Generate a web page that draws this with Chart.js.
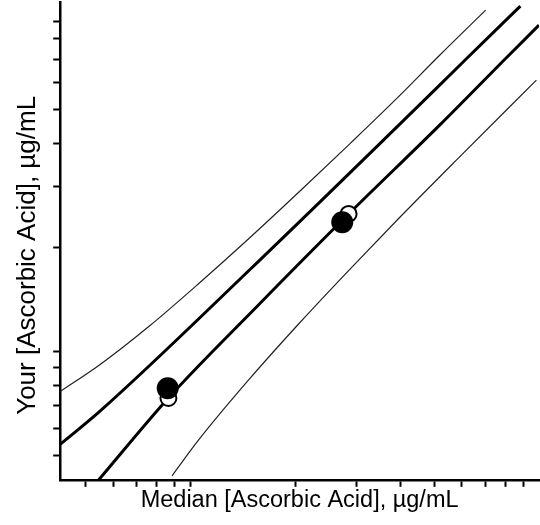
<!DOCTYPE html>
<html>
<head>
<meta charset="utf-8">
<script src="https://cdn.jsdelivr.net/npm/chart.js@4.4.0/dist/chart.umd.min.js"></script>
<style>
    html, body { margin: 0; padding: 0; background: #fff; }
    #wrap { width: 540px; height: 525px; }
</style>
</head>
<body>
<div id="wrap"><canvas id="chart" width="540" height="525"></canvas></div>
<script>
// Tick positions (log axes, no labels)
const xTicks = [0.5, 0.6, 0.7, 0.8, 0.9, 1, 2, 3, 4, 5, 6, 7, 8, 9];
const yTicks = [0.5, 0.6, 0.7, 0.8, 0.9, 1, 2, 3, 4, 5, 6, 7, 8, 9];

// Thick lines
const upperLineX = [0.422, 0.547, 1.475, 5.185, 6.157, 8.84];
const upperLineY = [0.540, 0.671, 1.721, 5.885, 6.98, 9.95];
const lowerLineX = [0.544, 0.863, 1.565, 2.84, 5.185, 7.97, 10];
const lowerLineY = [0.426, 0.735, 1.364, 2.497, 4.511, 6.98, 8.77];

// Thin band curves
const upperBandX = [0.422, 0.547, 0.761, 1.059, 1.475, 2.053, 2.858, 3.979, 5.185, 7.03];
const upperBandY = [0.767, 0.915, 1.186, 1.579, 2.129, 2.90, 3.977, 5.488, 7.18, 9.69];
const lowerBandX = [0.884, 1.054, 1.475, 2.053, 2.858, 3.979, 5.79, 9.83];
const lowerBandY = [0.438, 0.556, 0.834, 1.210, 1.726, 2.44, 3.574, 6.083];

// Measured points (filled) and expected points (open)
const yourX = [0.859, 2.723];
const yourY = [0.784, 2.364];
const expectedX = [0.863, 2.84];
const expectedY = [0.735, 2.50];

function zip(xs, ys) {
    return xs.map((x, i) => ({ x: x, y: ys[i] }));
}

const fontFamily = "Arial, 'Liberation Sans', sans-serif";

function lineSet(xs, ys, width, color) {
    return {
        type: 'line',
        data: zip(xs, ys),
        borderColor: color,
        borderWidth: width,
        pointRadius: 0,
        fill: false,
        cubicInterpolationMode: 'monotone',
        order: 3
    };
}

const ctx = document.getElementById('chart').getContext('2d');
new Chart(ctx, {
    type: 'scatter',
    data: {
        datasets: [
            {
                data: zip(yourX, yourY),
                pointRadius: 11,
                pointBackgroundColor: '#000',
                pointBorderColor: '#000',
                pointBorderWidth: 0,
                order: 0
            },
            {
                data: zip(expectedX, expectedY),
                pointRadius: 8,
                pointBackgroundColor: '#fff',
                pointBorderColor: '#000',
                pointBorderWidth: 2,
                order: 1
            },
            lineSet(upperLineX, upperLineY, 3, '#000'),
            lineSet(lowerLineX, lowerLineY, 3, '#000'),
            lineSet(upperBandX, upperBandY, 1.2, '#222'),
            lineSet(lowerBandX, lowerBandY, 1.2, '#222')
        ]
    },
    options: {
        responsive: false,
        animation: false,
        devicePixelRatio: 1,
        layout: {
            autoPadding: false,
            padding: { left: 8, right: 1, top: 2, bottom: 0 }
        },
        plugins: {
            legend: { display: false },
            tooltip: { enabled: false }
        },
        scales: {
            x: {
                type: 'logarithmic',
                min: 0.422,
                max: 10,
                afterBuildTicks: function(axis) {
                    axis.ticks = xTicks.map(v => ({ value: v }));
                },
                ticks: { display: false },
                grid: {
                    display: true,
                    drawOnChartArea: false,
                    drawTicks: true,
                    tickLength: 7,
                    tickColor: '#000',
                    tickWidth: 2
                },
                border: { display: true, color: '#000', width: 2.5 },
                title: {
                    display: true,
                    text: 'Median [Ascorbic Acid], µg/mL',
                    color: '#000',
                    font: { family: fontFamily, size: 23.5 },
                    padding: { top: 0, bottom: 10 }
                }
            },
            y: {
                type: 'logarithmic',
                min: 0.4265,
                max: 10.23,
                afterBuildTicks: function(axis) {
                    axis.ticks = yTicks.map(v => ({ value: v }));
                },
                ticks: { display: false },
                grid: {
                    display: true,
                    drawOnChartArea: false,
                    drawTicks: true,
                    tickLength: 7,
                    tickColor: '#000',
                    tickWidth: 2
                },
                border: { display: true, color: '#000', width: 2.5 },
                title: {
                    display: true,
                    text: 'Your [Ascorbic Acid], µg/mL    ',
                    color: '#000',
                    font: { family: fontFamily, size: 26 },
                    padding: { top: 4, bottom: 10 }
                }
            }
        }
    }
});
</script>
</body>
</html>
